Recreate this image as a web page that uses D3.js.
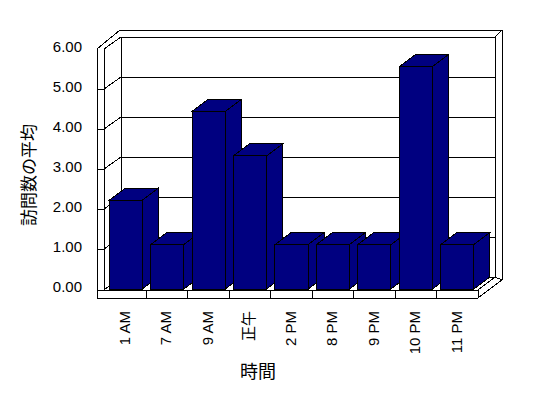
<!DOCTYPE html>
<html>
<head>
<meta charset="utf-8">
<script src="https://cdn.jsdelivr.net/npm/d3@7"></script>
<style>
  body { margin: 0; background: #fff; }
  text { font-family: "Liberation Sans", "Noto Sans CJK JP", sans-serif; fill: #000; }
</style>
</head>
<body>
<script>
const categories = ["1 AM", "7 AM", "9 AM", "正午", "2 PM", "8 PM", "9 PM", "10 PM", "11 PM"];
const visits = [2.22, 1.11, 4.44, 3.33, 1.11, 1.11, 1.11, 5.56, 1.11];
const yTicks = [0, 1, 2, 3, 4, 5, 6];
const yTitle = "訪問数の平均";
const xTitle = "時間";

const w = 548;
const h = 398;

// front plane of the box
const x = d3.scaleBand()
    .domain(categories)
    .range([105, 478])
    .paddingInner(0.2)
    .paddingOuter(0.1);

const y = d3.scaleLinear()
    .domain([0, 6])
    .range([289, 49]);

const dep = {x: 17, y: -12};   // wall depth
const bdep = {x: 16, y: -12};  // bar depth
const wallOut = 97;             // outer face of left wall
const wallIn = 104;             // inner face of left wall
const floorTop = y(0) + 1;
const floorBot = 298;
const xR = x.range()[1];
const yT = y(6);

const svg = d3.select("body")
    .append("svg")
    .attr("width", w)
    .attr("height", h);

const box = svg.append("g")
    .attr("fill", "#fff")
    .attr("stroke", "#000")
    .attr("stroke-width", 1)
    .attr("shape-rendering", "crispEdges");

const line = d3.line();

// silhouette of the walls and floor
box.append("path")
    .attr("d", line([
        [wallOut, yT], [wallOut + 23, yT - 19], [xR + dep.x + 7, yT - 19],
        [xR + dep.x + 7, floorBot - 18], [xR, floorBot], [wallOut, floorBot]
    ]) + "Z");

// back wall inner face
box.append("rect")
    .attr("x", wallIn + dep.x)
    .attr("y", yT + dep.y)
    .attr("width", xR - wallIn)
    .attr("height", y(0) - yT);

box.append("path").attr("d", line([[xR + dep.x, yT + dep.y], [xR + dep.x + 7, yT - 19]]));
box.append("path").attr("d", line([[wallIn, yT], [wallIn + dep.x, yT + dep.y]]));
box.append("path").attr("d", line([[wallIn, yT], [wallIn, floorTop]]));
box.append("path").attr("d", line([[wallIn, floorTop], [wallIn + dep.x, y(0) + dep.y]]));
box.append("path").attr("d", line([[wallOut, floorTop], [xR, floorTop]]));
box.append("path").attr("d", line([[xR, floorTop], [xR, floorBot]]));
box.append("path").attr("d", line([[xR, floorTop], [xR + dep.x, y(0) + dep.y]]));
box.append("path").attr("d", line([[xR + dep.x, y(0) + dep.y], [xR + dep.x + 7, floorBot - 18]]));

// gridlines: tick on wall edge, across side wall, along back wall
yTicks.filter(v => v > 0 && v < 6).forEach(v => {
    box.append("path")
        .attr("fill", "none")
        .attr("d", line([
            [wallOut, y(v)], [wallIn, y(v)],
            [wallIn + dep.x, y(v) + dep.y], [xR + dep.x, y(v) + dep.y]
        ]));
});

// category separators on the floor front
d3.range(1, categories.length).forEach(k => {
    const sx = x.range()[0] + k * x.step();
    box.append("path").attr("d", line([[sx, floorTop], [sx, floorBot]]));
});

// bars
const bw = x.bandwidth();
const bars = svg.append("g")
    .attr("fill", "#000080")
    .attr("stroke", "#000")
    .attr("stroke-width", 1)
    .attr("shape-rendering", "crispEdges");

categories.forEach((c, i) => {
    const x0 = x(c), x1 = x(c) + bw;
    const yv = y(visits[i]), yb = y(0);
    const g = bars.append("g");
    g.append("path").attr("d", line([
        [x1, yv], [x1 + bdep.x, yv + bdep.y], [x1 + bdep.x, yb + bdep.y], [x1, yb]
    ]) + "Z");
    g.append("path").attr("d", line([
        [x0, yv], [x1, yv], [x1 + bdep.x, yv + bdep.y], [x0 + bdep.x, yv + bdep.y]
    ]) + "Z");
    g.append("rect")
        .attr("x", x0)
        .attr("y", yv)
        .attr("width", bw)
        .attr("height", yb - yv);
});

// y axis labels
const yAxis = svg.append("g")
    .attr("transform", `translate(${wallOut},-2)`)
    .call(d3.axisLeft(y).tickValues(yTicks).tickSize(0).tickPadding(15).tickFormat(d3.format(".2f")));
yAxis.select(".domain").remove();
yAxis.attr("font-family", null).attr("font-size", null);
yAxis.selectAll("text").style("font-size", "15px");

// x axis labels, rotated
const xAxis = svg.append("g")
    .attr("transform", `translate(-1,${floorBot})`)
    .call(d3.axisBottom(x).tickSize(0));
xAxis.select(".domain").remove();
xAxis.attr("font-family", null).attr("font-size", null);
xAxis.selectAll("text")
    .attr("transform", "rotate(-90)")
    .attr("x", -13)
    .attr("y", 0)
    .attr("dy", "0.35em")
    .attr("text-anchor", "end")
    .style("font-size", "15px");

svg.append("text")
    .attr("transform", "translate(29,175) rotate(-90)")
    .attr("text-anchor", "middle")
    .attr("dominant-baseline", "central")
    .style("font-size", "17px")
    .text(yTitle);

svg.append("text")
    .attr("x", 258)
    .attr("y", 372)
    .attr("text-anchor", "middle")
    .attr("dominant-baseline", "central")
    .style("font-size", "18px")
    .text(xTitle);
</script>
</body>
</html>
